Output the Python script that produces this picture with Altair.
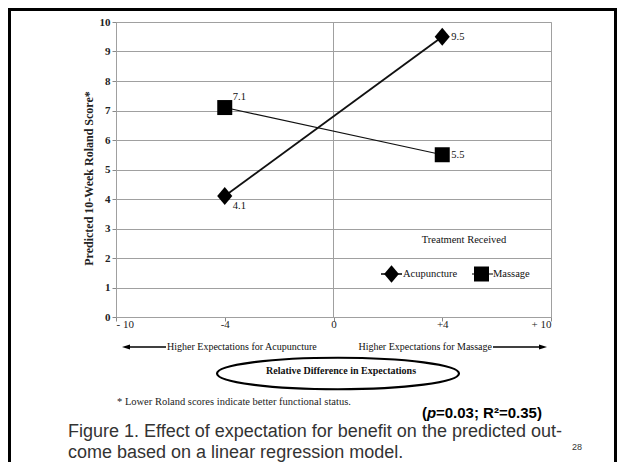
import altair as alt
import pandas as pd

# ---- data ----
tick_labels = ["- 10", "-4", "0", "+4", "+ 10"]
treatments = ["Acupuncture", "Acupuncture", "Massage", "Massage"]
expect_diff = ["-4", "+4", "-4", "+4"]
roland = [4.1, 9.5, 7.1, 5.5]
legend_order = ["Acupuncture", "Massage"]
center_line = ["0"]

df = pd.DataFrame({"Treatment": treatments, "x": expect_diff, "y": roland})
one = pd.DataFrame({"_": [0]})

SERIF = "Liberation Serif"
SANS = "Liberation Sans"
GRID = "#a0a0a0"
DIAMOND = "M 0 -1 L 0.84 0 L 0 1 L -0.84 0 Z"

xscale = alt.Scale(domain=tick_labels, type="point", padding=0)
yscale = alt.Scale(domain=[0, 10])

x_enc = alt.X(
    "x:N", scale=xscale, sort=tick_labels,
    axis=alt.Axis(title=None, labelAngle=0, labelFont=SERIF,
                  labelAlign={"condition": [{"test": "datum.value == '- 10'", "value": "left"},
                                            {"test": "datum.value == '+ 10'", "value": "right"}],
                              "value": "center"},
                  labelFontSize=11, labelColor="#222", domainColor=GRID,
                  tickColor="#888", tickSize=4, labelPadding=3, grid=False),
)
y_enc = alt.Y(
    "y:Q", scale=yscale,
    axis=alt.Axis(values=list(range(11)), grid=True, gridColor=GRID, gridWidth=1,
                  domainColor=GRID, tickColor="#888", tickSize=4,
                  labelFont=SERIF, labelFontWeight="bold", labelFontSize=11,
                  labelColor="#222", labelPadding=2,
                  title="Predicted 10-Week Roland Score*", titleFont=SERIF,
                  titleFontSize=12, titleFontWeight="bold", titleColor="#222",
                  titlePadding=4, titleY=156),
)

# vertical centre gridline at 0
vline = alt.Chart(pd.DataFrame({"x": center_line})).mark_rule(color=GRID, strokeWidth=1).encode(
    x=alt.X("x:N", scale=xscale, sort=tick_labels)
)

lines = alt.Chart(df).mark_line(color="#111").encode(
    x=x_enc, y=y_enc,
    detail="Treatment:N",
    strokeWidth=alt.StrokeWidth("Treatment:N", scale=alt.Scale(domain=legend_order, range=[1.9, 1.1]), legend=None),
)

points = alt.Chart(df).mark_point(filled=True, color="black", opacity=1).encode(
    x=x_enc, y=y_enc,
    shape=alt.Shape("Treatment:N", scale=alt.Scale(domain=legend_order, range=[DIAMOND, "square"]), legend=None),
    size=alt.Size("Treatment:N", scale=alt.Scale(domain=legend_order, range=[324, 225]), legend=None),
)

lab_kw = dict(font=SERIF, fontSize=10.5, color="#111", align="left", baseline="middle")
lab_up = alt.Chart(df).transform_filter(
    "datum.Treatment == 'Massage' && datum.x == '-4'"
).mark_text(dx=8, dy=-11, **lab_kw).encode(x=x_enc, y=y_enc, text=alt.Text("y:Q", format=".1f"))
lab_down = alt.Chart(df).transform_filter(
    "datum.Treatment == 'Acupuncture' && datum.x == '-4'"
).mark_text(dx=8, dy=10, **lab_kw).encode(x=x_enc, y=y_enc, text=alt.Text("y:Q", format=".1f"))
lab_right = alt.Chart(df).transform_filter(
    "datum.x == '+4'"
).mark_text(dx=9, dy=0, **lab_kw).encode(x=x_enc, y=y_enc, text=alt.Text("y:Q", format=".1f"))

# ---- decorations (pixel positions relative to plot origin) ----
def txt(s, x, y, **kw):
    return alt.Chart(one).mark_text(**kw).encode(
        x=alt.value(x), y=alt.value(y), text=alt.value(s))

def seg(x1, x2, y, **kw):
    return alt.Chart(one).mark_rule(**kw).encode(
        x=alt.value(x1), x2=alt.value(x2), y=alt.value(y))

def sym(shape, x, y, size, **kw):
    return alt.Chart(one).mark_point(shape=shape, opacity=1, size=size, **kw).encode(
        x=alt.value(x), y=alt.value(y))

frame = alt.Chart(one).mark_rect(fill="white", fillOpacity=0, stroke="black", strokeWidth=3).encode(
    x=alt.value(-106.5), x2=alt.value(499.5), y=alt.value(-12.5), y2=alt.value(460))

# legend (Excel style: symbol with a short line through it)
leg_title = txt("Treatment Received", 348, 218, font=SERIF, fontSize=10.5, color="#111", align="center", baseline="middle")
leg_line1 = seg(265, 286, 252, color="#111", strokeWidth=1.6)
leg_sym1 = sym(DIAMOND, 275.5, 252, 310, filled=True, color="black")
leg_lab1 = txt(legend_order[0], 287, 252, font=SERIF, fontSize=10.5, color="#111", align="left", baseline="middle")
leg_line2 = seg(356, 377, 252, color="#111", strokeWidth=1.1)
leg_sym2 = sym("square", 365.5, 252, 225, filled=True, color="black")
leg_lab2 = txt(legend_order[1], 377, 252, font=SERIF, fontSize=10.5, color="#111", align="left", baseline="middle")

arrow_left_line = seg(10, 50, 325, color="black", strokeWidth=1.3)
arrow_right_line = seg(377, 427, 325, color="black", strokeWidth=1.3)
head_left = sym("M -1 0 L 1 -0.65 L 1 0.65 Z", 10, 325, 64, filled=True, color="black")
head_right = sym("M 1 0 L -1 -0.65 L -1 0.65 Z", 427, 325, 64, filled=True, color="black")
arrow_txt_l = txt("Higher Expectations for Acupuncture", 51, 325, font=SERIF, fontSize=10, color="#111", align="left", baseline="middle")
arrow_txt_r = txt("Higher Expectations for Massage", 376, 325, font=SERIF, fontSize=10, color="#111", align="right", baseline="middle")

ellipse = sym("M -1 0 A 1 0.13 0 1 0 1 0 A 1 0.13 0 1 0 -1 0", 222, 351.5, 58564,
              filled=False, color="black", strokeWidth=2.2)
rel_txt = txt("Relative Difference in Expectations", 225, 349, font=SERIF, fontSize=10, fontWeight="bold", color="#111", align="center", baseline="middle")

foot = txt("*  Lower Roland scores indicate better functional status.", 1, 380, font=SERIF, fontSize=10.5, color="#222", align="left", baseline="middle")

p1 = txt("(", 306, 391, font=SANS, fontSize=15, fontWeight="bold", color="black", align="left", baseline="middle")
p2 = txt("p", 311, 391, font=SANS, fontSize=15, fontWeight="bold", fontStyle="italic", color="black", align="left", baseline="middle")
p3 = txt("=0.03; R\u00b2=0.35)", 320, 391, font=SANS, fontSize=15, fontWeight="bold", color="black", align="left", baseline="middle")

cap1 = txt("Figure 1. Effect of expectation for benefit on the predicted out-", -48, 410, font=SANS, fontSize=18, color="#333", align="left", baseline="middle")
cap2 = txt("come based on a linear regression model.", -48, 431, font=SANS, fontSize=18, color="#333", align="left", baseline="middle")
page = txt("28", 461, 425, font=SANS, fontSize=9, color="#333", align="center", baseline="middle")

chart = alt.layer(
    frame, vline, lines, points, lab_up, lab_down, lab_right,
    leg_title, leg_line1, leg_sym1, leg_lab1, leg_line2, leg_sym2, leg_lab2,
    arrow_left_line, arrow_right_line, head_left, head_right, arrow_txt_l, arrow_txt_r,
    ellipse, rel_txt, foot, p1, p2, p3, cap1, cap2, page,
).properties(
    width=435, height=295,
    autosize=alt.AutoSizeParams(type="none"),
    padding={"left": 116, "top": 22, "right": 67, "bottom": 145},
    background="white",
).configure_view(stroke=GRID, strokeWidth=1)

chart.save("out.html", embed_options={"renderer": "svg", "actions": False})
